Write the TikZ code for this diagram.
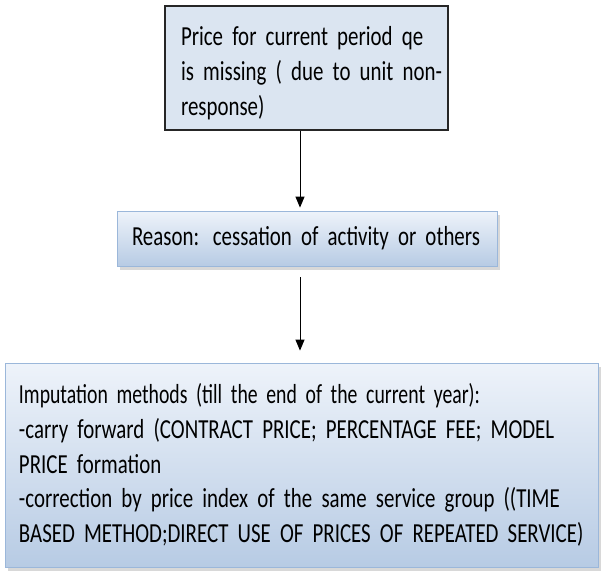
\documentclass[tikz,border=0pt]{standalone}
\usepackage{fontspec}
\setmainfont[FakeStretch=0.76]{Carlito}
\usetikzlibrary{arrows.meta,shadows}
\definecolor{boxfill}{HTML}{DBE5F1}
\definecolor{gradtop}{HTML}{EEF3FA}
\definecolor{gradbot}{HTML}{B7CBE4}
\definecolor{gradline}{HTML}{9BB7DA}
\newcommand\boxfont{\fontsize{27.5}{34.8}\selectfont}

\begin{document}
\begin{tikzpicture}[x=1pt,y=-1pt,
  every node/.style={font=\boxfont, align=left, inner ysep=0pt},
  plainbox/.style={draw=black!85, line width=1.1pt, fill=boxfill},
  shadedbox/.style={draw=gradline, line width=0.8pt, top color=gradtop, bottom color=gradbot,
    drop shadow={shadow xshift=3pt, shadow yshift=-4pt, fill=black!30}},
  arr/.style={line width=1pt, -{Triangle[length=11pt,width=9pt]}}]

\useasboundingbox (0,0) rectangle (606,584);

\node [plainbox, minimum width=283pt, minimum height=124pt, inner xsep=16pt, text width=251pt] (top) at (306.5,68)
  {\rule{0pt}{29pt}\mbox{Price for current period qe}\\\mbox{is missing ( due to unit non-}\\response)};

\node [shadedbox, minimum width=380pt, minimum height=55pt, inner xsep=15pt, text width=350pt] (mid) at (307,238.5)
  {\mbox{Reason: cessation of activity  or others}};

\node [shadedbox, minimum width=593pt, minimum height=204pt, inner xsep=14pt, text width=565pt] (bot) at (301.5,465)
  {\scalebox{0.945}[1]{Imputation methods (till the end of the current year):}\\
   \mbox{-carry forward (CONTRACT PRICE; PERCENTAGE FEE; MODEL}\\
   PRICE formation\\
   \mbox{-correction by price index of the same service group ((TIME}\\
   \mbox{BASED METHOD;DIRECT USE OF PRICES OF REPEATED SERVICE)}};

\draw[arr] ([xshift=-6.5pt]top.south) -- ([xshift=-7pt,yshift=3pt]mid.north); % first step
\draw[arr] ([xshift=-7pt,yshift=-11pt]mid.south) -- ([xshift=-1.5pt,yshift=12pt]bot.north); % second step

\end{tikzpicture}
\end{document}
